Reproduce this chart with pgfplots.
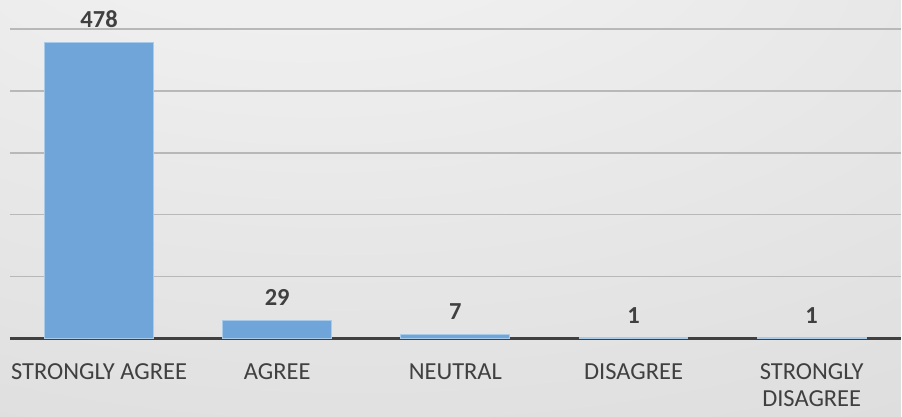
\documentclass[border=0pt]{standalone}
\usepackage{fontspec}
\setmainfont{Carlito}
\usepackage{pgfplots}
\pgfplotsset{compat=1.18}
\definecolor{barblue}{HTML}{6FA5D8}
\definecolor{baredge}{HTML}{A9CBEA}
\definecolor{txtgray}{HTML}{404040}
\definecolor{gridgray}{HTML}{B8B8B8}
\definecolor{bgA}{HTML}{EFEFEF}
\definecolor{bgB}{HTML}{CDCDCD}
% soft light-grey backdrop, brightest near the top centre
\pgfdeclareradialshading{bgshade}{\pgfpoint{-10bp}{45bp}}{color(0bp)=(bgA); color(15bp)=(bgA); color(90bp)=(bgB)}
\begin{document}
\begin{tikzpicture}[x=1pt,y=1pt]
\shade[shading=bgshade] (0,0) rectangle (902,417);
\begin{axis}[
  at={(10pt,78pt)}, anchor=south west,
  scale only axis, width=892pt, height=310pt,
  xmin=-0.5, xmax=4.5, ymin=0, ymax=500,
  ybar, bar width=109pt,
  axis x line*=bottom, axis y line*=left,
  x axis line style={line width=2.5pt, txtgray},
  y axis line style={draw=none},
  ytick={100,200,300,400,500}, yticklabels={},
  ymajorgrids, grid style={gridgray, line width=1.5pt},
  major tick length=0pt,
  xtick={0,1,2,3,4},
  xticklabels={STRONGLY AGREE, AGREE, NEUTRAL, DISAGREE, {STRONGLY\\DISAGREE}},
  xticklabel style={align=center, anchor=north, yshift=-22pt,
    font=\fontsize{24.5}{27}\selectfont, text=txtgray},
  /pgf/number format/assume math mode=true,
  nodes near coords,
  every node near coord/.append style={font=\bfseries\fontsize{24.5}{29}\selectfont,
    text=txtgray, yshift=11pt},
  clip=false,
]
\addplot[fill=barblue, draw=baredge, line width=1pt] coordinates {
  (0,478) (1,29) (2,7) (3,1) (4,1)
};
\end{axis}
\end{tikzpicture}
\end{document}
